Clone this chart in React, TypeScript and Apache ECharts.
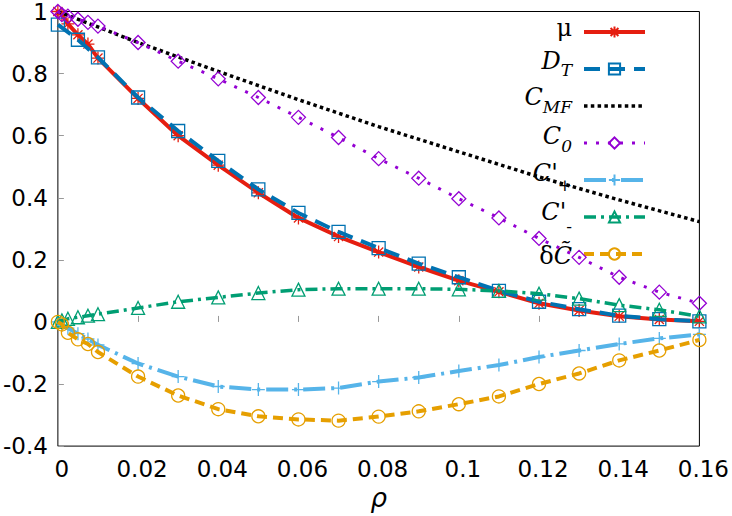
import React, { useEffect, useRef } from "react";
import * as echarts from "echarts";

// x positions
const X_FINE = [0, 0.001, 0.0025, 0.005, 0.0075, 0.01, 0.02, 0.03, 0.04, 0.05, 0.06, 0.07, 0.08, 0.09, 0.1, 0.11, 0.12, 0.13, 0.14, 0.15, 0.16];
const X_DT = [0, 0.005, 0.01, 0.02, 0.03, 0.04, 0.05, 0.06, 0.07, 0.08, 0.09, 0.1, 0.11, 0.12, 0.13, 0.14, 0.15, 0.16];
const X_CMF = [0, 0.02, 0.04, 0.06, 0.08, 0.1, 0.12, 0.14, 0.16];

// series values
const MU = [1.0, 0.99, 0.96, 0.925, 0.895, 0.85, 0.72, 0.6, 0.505, 0.416, 0.335, 0.275, 0.225, 0.177, 0.133, 0.097, 0.06, 0.037, 0.018, 0.008, 0.002];
const DT = [0.958, 0.909, 0.852, 0.723, 0.615, 0.519, 0.427, 0.351, 0.29, 0.238, 0.188, 0.144, 0.1, 0.065, 0.041, 0.02, 0.009, 0.002];
const CMF = [1, 0.9, 0.807, 0.716, 0.629, 0.548, 0.467, 0.393, 0.323];
const C0 = [1.0, 0.99, 0.985, 0.975, 0.965, 0.953, 0.9, 0.84, 0.783, 0.723, 0.659, 0.594, 0.526, 0.463, 0.397, 0.335, 0.269, 0.208, 0.144, 0.096, 0.06];
const CPLUS = [0, -0.01, -0.02, -0.038, -0.055, -0.074, -0.134, -0.176, -0.208, -0.218, -0.218, -0.213, -0.192, -0.179, -0.158, -0.139, -0.113, -0.092, -0.071, -0.053, -0.04];
const CMINUS = [0, 0.005, 0.01, 0.015, 0.02, 0.025, 0.045, 0.065, 0.079, 0.093, 0.104, 0.107, 0.107, 0.107, 0.105, 0.1, 0.091, 0.075, 0.054, 0.039, 0.018];
const DCT = [0, -0.008, -0.035, -0.056, -0.071, -0.097, -0.176, -0.237, -0.281, -0.304, -0.314, -0.318, -0.305, -0.288, -0.265, -0.24, -0.2, -0.166, -0.124, -0.092, -0.058];

const NAMES = ["μ", "D_T", "C_MF", "C_0", "C'_+", "C'_-", "δC̃"];
const LEGEND_TEXT: Record<string, string> = {
  "μ": "{mu|μ}",
  "D_T": "{dI|D}{dS|T}",
  "C_MF": "{mfI|C}{mfS|MF}",
  "C_0": "{c0I|C}{c0S|0}",
  "C'_+": "{cpI|C'}{cpS|+}",
  "C'_-": "{cmI|C'}{cmS|-}",
  "δC̃": "{dcG|δ}{dcI|C\u0303}",
};

const ASTERISK = "path://M0,-10L0,10M-10,0L10,0M-7,-7L7,7M-7,7L7,-7";
const PLUS = "path://M0,-10L0,10M-10,0L10,0";

const zip = (xs: number[], ys: number[]) => xs.map((x, i) => [x, ys[i]]);

const tok = (size: number, italic: boolean, s: number, padRight = 0) => ({
  fontFamily: "DejaVu Serif",
  fontStyle: italic ? "italic" : "normal",
  fontSize: size,
  lineHeight: 10,
  color: "#000",
  padding: [15 + s, padRight, 15 - s, 0],
});

export default function App() {
  const ref = useRef<HTMLDivElement>(null);
  useEffect(() => {
    if (!ref.current) return;
    const chart = echarts.init(ref.current, undefined, { renderer: "svg" });
    const mk = (
      name: string,
      data: number[][],
      color: string,
      width: number,
      type: any,
      symbol: string,
      symbolSize: number,
      z: number
    ) => ({
      name,
      type: "line",
      data,
      z,
      symbol,
      symbolSize,
      showSymbol: symbol !== "none",
      lineStyle: { color, width, type, cap: "butt" },
      itemStyle: { color: "rgba(0,0,0,0)", borderColor: color, borderWidth: symbol === "none" ? 0 : 1.3 },
      emphasis: { disabled: true },
    });
    chart.setOption({
      animation: false,
      grid: { left: 57, right: 30, top: 10, bottom: 60, show: true, borderColor: "#000", borderWidth: 1 },
      xAxis: {
        type: "value",
        min: 0,
        max: 0.16,
        interval: 0.02,
        name: "ρ",
        nameLocation: "middle",
        nameGap: 34,
        nameTextStyle: { fontFamily: "DejaVu Sans", fontStyle: "italic", fontSize: 26, color: "#000" },
        axisLine: { show: false },
        axisTick: { inside: true, length: 6, lineStyle: { color: "#999" } },
        splitLine: { show: false },
        axisLabel: { fontFamily: "DejaVu Sans", fontSize: 23, color: "#000", margin: 11, padding: [0, 0, 0, 8] },
      },
      yAxis: {
        type: "value",
        min: -0.4,
        max: 1,
        interval: 0.2,
        axisLine: { show: false },
        axisTick: { inside: true, length: 6, lineStyle: { color: "#999" } },
        splitLine: { show: false },
        axisLabel: { fontFamily: "DejaVu Sans", fontSize: 23, color: "#000", margin: 10 },
      },
      legend: {
        orient: "vertical",
        right: 85,
        top: 5,
        padding: 0,
        align: "right",
        itemWidth: 61,
        itemHeight: 14,
        itemGap: -17,
        selectedMode: false,
        data: NAMES,
        formatter: (n: string) => LEGEND_TEXT[n] || n,
        lineStyle: { width: "inherit", type: "inherit" },
        textStyle: {
          rich: {
            mu: tok(24, false, -3.8, 7),
            dI: tok(24, true, -8.3),
            dS: tok(17, true, 1.1, 7),
            mfI: tok(24, true, -9.3),
            mfS: tok(17, true, 1.1, 7),
            c0I: tok(24, true, -7.3),
            c0S: tok(17, true, 3.1, 7),
            cpI: tok(24, true, -7.3),
            cpS: tok(17, false, 5.1, 7),
            cmI: tok(24, true, -5.3),
            cmS: tok(17, false, 9.1, 7),
            dcG: tok(24, false, 1.7),
            dcI: tok(24, true, 1.7, 7),
          },
        },
      },
      series: [
        mk(NAMES[0], zip(X_FINE, MU), "#e51e10", 4, "solid", ASTERISK, 13, 2),
        mk(NAMES[1], zip(X_DT, DT), "#0072b2", 4, [16, 9], "rect", 13, 3),
        mk(NAMES[2], zip(X_CMF, CMF), "#000000", 3.5, [3.5, 3.3], "none", 0, 4),
        mk(NAMES[3], zip(X_FINE, C0), "#9400d3", 3, [3, 9], "diamond", 14, 5),
        mk(NAMES[4], zip(X_FINE, CPLUS), "#56b4e9", 4, [22, 6, 3, 6], PLUS, 13, 6),
        mk(NAMES[5], zip(X_FINE, CMINUS), "#009e73", 3.5, [12, 5, 3, 5], "triangle", 13, 7),
        mk(NAMES[6], zip(X_FINE, DCT), "#e69f00", 4, [10, 6], "circle", 13, 8),
      ],
    });
    return () => chart.dispose();
  }, []);
  return <div ref={ref} style={{ width: 732, height: 516, position: "absolute", left: 0, top: 0 }} />;
}
